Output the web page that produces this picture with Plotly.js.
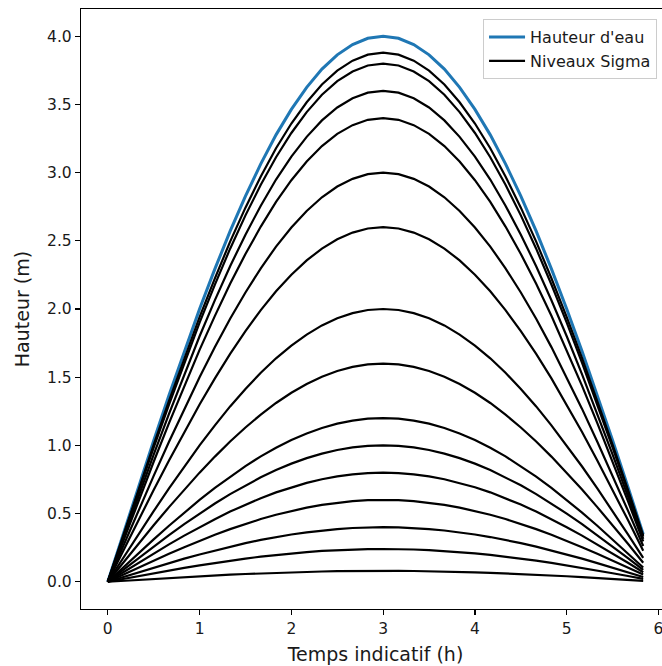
<!DOCTYPE html>
<html>
<head>
<meta charset="utf-8">
<script src="https://cdn.plot.ly/plotly-3.0.1.min.js"></script>
<style>
html, body { margin: 0; padding: 0; overflow: hidden; background: #fff; }
#chart { width: 672px; height: 666px; }
</style>
</head>
<body>
<div id="chart"></div>
<script>
// Time (h)
var temps = [0, 0.167, 0.333, 0.5, 0.667, 0.833, 1.0, 1.167, 1.333, 1.5, 1.667, 1.833,
             2.0, 2.167, 2.333, 2.5, 2.667, 2.833, 3.0, 3.167, 3.333, 3.5, 3.667, 3.833,
             4.0, 4.167, 4.333, 4.5, 4.667, 4.833, 5.0, 5.167, 5.333, 5.5, 5.667, 5.833];
// Water height (m)
var hauteurEau = [0, 0.349, 0.695, 1.035, 1.368, 1.690, 2.0, 2.294, 2.571, 2.828, 3.064, 3.277,
                  3.464, 3.625, 3.759, 3.864, 3.939, 3.985, 4.0, 3.985, 3.939, 3.864, 3.759, 3.625,
                  3.464, 3.277, 3.064, 2.828, 2.571, 2.294, 2.0, 1.690, 1.368, 1.035, 0.695, 0.349];
// Sigma level fractions of the water column
var niveauxSigma = [0.02, 0.06, 0.1, 0.15, 0.2, 0.25, 0.3, 0.4, 0.5, 0.65, 0.75, 0.85, 0.9, 0.95, 0.97];
var xTicks = [0, 1, 2, 3, 4, 5, 6];
var yTicks = [0.0, 0.5, 1.0, 1.5, 2.0, 2.5, 3.0, 3.5, 4.0];

var traces = [{
  x: temps, y: hauteurEau, type: 'scatter', mode: 'lines',
  name: "Hauteur d'eau", line: {color: '#1f77b4', width: 3}
}];
niveauxSigma.forEach(function (s, i) {
  traces.push({
    x: temps, y: hauteurEau.map(function (h) { return s * h; }),
    type: 'scatter', mode: 'lines', name: 'Niveaux Sigma',
    showlegend: i === 0, line: {color: '#000000', width: 2.2}
  });
});

var txt = '#1a1a1a';
var layout = {
  width: 672, height: 666,
  margin: {l: 81, r: 2, t: 9, b: 57},
  paper_bgcolor: '#fff', plot_bgcolor: '#fff',
  font: {family: 'DejaVu Sans', size: 16, color: txt},
  showlegend: true,
  legend: {
    x: 0.978, y: 0.983, xanchor: 'right', yanchor: 'top',
    bgcolor: 'rgba(255,255,255,0.8)', bordercolor: '#cccccc', borderwidth: 1,
    font: {family: 'DejaVu Sans', size: 16, color: txt},
    itemwidth: 36,
    tracegroupgap: 0
  },
  xaxis: {
    range: [-0.2917, 6.125], tickvals: xTicks, ticktext: xTicks.map(String),
    showgrid: false, zeroline: false, showline: true, linecolor: '#000', linewidth: 1.2,
    mirror: true, ticks: 'outside', ticklen: 5, tickcolor: '#000', tickwidth: 1.2,
    tickfont: {family: 'DejaVu Sans', size: 15.5, color: txt},
    title: {text: 'Temps indicatif (h)', font: {family: 'DejaVu Sans', size: 19, color: txt}, standoff: 11}
  },
  yaxis: {
    range: [-0.2, 4.2], tickvals: yTicks, ticktext: yTicks.map(function (v) { return v.toFixed(1); }),
    showgrid: false, zeroline: false, showline: true, linecolor: '#000', linewidth: 1.2,
    mirror: true, ticks: 'outside', ticklen: 5, tickcolor: '#000', tickwidth: 1.2,
    tickfont: {family: 'DejaVu Sans', size: 15.5, color: txt},
    title: {text: 'Hauteur (m)', font: {family: 'DejaVu Sans', size: 19, color: txt}, standoff: 12}
  }
};
Plotly.newPlot('chart', traces, layout, {displayModeBar: false, staticPlot: true});
</script>
</body>
</html>
